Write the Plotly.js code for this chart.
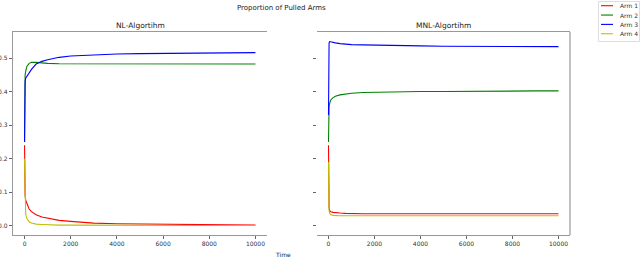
<!DOCTYPE html>
<html><head><meta charset="utf-8">
<script src="https://cdn.plot.ly/plotly-3.0.1.min.js"></script>
<style>html,body{margin:0;padding:0;background:#fff}#chart{width:640px;height:258px}</style>
</head><body><div id="chart"></div>
<script>
const time = [0, 10, 25, 50, 100, 200, 300, 500, 750, 1000, 1500, 2000, 3000, 4000, 5000, 6000, 7000, 8000, 9000, 10000];
const armNames = ["Arm 1", "Arm 2", "Arm 3", "Arm 4"];
const armColors = ["#ff0000", "#008000", "#0000ff", "#bfbf00"];

// NL-Algorithm proportions
const nlArm1 = [0.24, 0.13, 0.09, 0.076, 0.068, 0.050, 0.042, 0.033, 0.026, 0.022, 0.016, 0.013, 0.008, 0.006, 0.005, 0.004, 0.003, 0.003, 0.002, 0.002];
const nlArm2 = [0.25, 0.40, 0.45, 0.46, 0.475, 0.484, 0.487, 0.487, 0.485, 0.484, 0.483, 0.483, 0.483, 0.482, 0.482, 0.482, 0.482, 0.482, 0.482, 0.482];
const nlArm3 = [0.25, 0.40, 0.43, 0.44, 0.446, 0.456, 0.466, 0.482, 0.490, 0.495, 0.502, 0.506, 0.510, 0.512, 0.513, 0.514, 0.514, 0.515, 0.515, 0.516];
const nlArm4 = [0.20, 0.11, 0.06, 0.035, 0.022, 0.012, 0.008, 0.005, 0.004, 0.003, 0.002, 0.002, 0.0015, 0.001, 0.001, 0.001, 0.001, 0.001, 0.001, 0.001];

// MNL-Algorithm proportions
const mnlArm1 = [0.24, 0.09, 0.055, 0.045, 0.042, 0.040, 0.039, 0.038, 0.037, 0.036, 0.036, 0.036, 0.036, 0.036, 0.036, 0.036, 0.036, 0.036, 0.036, 0.036];
const mnlArm2 = [0.25, 0.33, 0.355, 0.365, 0.375, 0.382, 0.386, 0.390, 0.393, 0.395, 0.397, 0.398, 0.399, 0.400, 0.400, 0.401, 0.401, 0.402, 0.402, 0.402];
const mnlArm3 = [0.33, 0.50, 0.545, 0.549, 0.548, 0.546, 0.545, 0.543, 0.541, 0.540, 0.539, 0.538, 0.537, 0.536, 0.535, 0.535, 0.534, 0.534, 0.534, 0.534];
const mnlArm4 = [0.19, 0.07, 0.045, 0.037, 0.033, 0.031, 0.030, 0.030, 0.030, 0.030, 0.030, 0.030, 0.030, 0.030, 0.030, 0.030, 0.030, 0.030, 0.030, 0.030];

const xTicks = [0, 2000, 4000, 6000, 8000, 10000];
const yTicks = [0.0, 0.1, 0.2, 0.3, 0.4, 0.5];
const yTickText = ["0.0", "0.1", "0.2", "0.3", "0.4", "0.5"];

const nl = [nlArm1, nlArm2, nlArm3, nlArm4];
const mnl = [mnlArm1, mnlArm2, mnlArm3, mnlArm4];
const traces = [];
nl.forEach((ys, i) => traces.push({x: time, y: ys, type: 'scatter', mode: 'lines', name: armNames[i],
  line: {color: armColors[i], width: 1.1}, xaxis: 'x', yaxis: 'y', showlegend: false}));
mnl.forEach((ys, i) => traces.push({x: time, y: ys, type: 'scatter', mode: 'lines', name: armNames[i],
  line: {color: armColors[i], width: 1.1}, xaxis: 'x2', yaxis: 'y2', showlegend: false}));

const FAM = 'DejaVu Sans, sans-serif';
const font = {family: FAM, size: 6, color: '#333'};
const xBase = {range: [-500, 10500], tickvals: xTicks, ticktext: xTicks.map(String), showgrid: false, zeroline: false,
  showline: true, mirror: true, linecolor: '#999', linewidth: 1.2, ticks: 'outside', ticklen: 3, tickcolor: '#666',
  tickfont: font};
const yBase = {range: [-0.0275, 0.5775], tickvals: yTicks, showgrid: false, zeroline: false,
  ticks: 'outside', ticklen: 3, tickcolor: '#666', tickfont: font};

const W = 640, H = 258;
const shapes = [{type: 'line', xref: 'x2 domain', yref: 'y2 domain', x0: 1, x1: 1, y0: 0, y1: 1,
  line: {color: '#999', width: 1.2}}];
const annotations = [
  {text: 'Proportion of Pulled Arms', xref: 'paper', yref: 'paper', x: 281/W, y: 1-8/H, showarrow: false,
    xanchor: 'center', yanchor: 'middle', font: {family: FAM, size: 7, color: '#222'}},
  {text: 'NL-Algortihm', xref: 'paper', yref: 'paper', x: 140/W, y: 1-26/H, showarrow: false,
    xanchor: 'center', yanchor: 'middle', font: {family: FAM, size: 7.5, color: '#222'}},
  {text: 'MNL-Algortihm', xref: 'paper', yref: 'paper', x: 443/W, y: 1-26/H, showarrow: false,
    xanchor: 'center', yanchor: 'middle', font: {family: FAM, size: 7.5, color: '#222'}},
  {text: 'Time', xref: 'paper', yref: 'paper', x: 283/W, y: 1-254/H, showarrow: false,
    xanchor: 'center', yanchor: 'middle', font: {family: FAM, size: 6, color: '#222'}}
];
// compact legend (matplotlib-like)
shapes.push({type: 'rect', xref: 'paper', yref: 'paper', x0: 598.5/W, x1: 639.5/W, y0: 1-41.5/H, y1: 1-1.5/H,
  line: {color: '#dddddd', width: 1}, fillcolor: '#ffffff'});
armNames.forEach((nm, i) => {
  const yc = 5.7 + i * 9.35;
  shapes.push({type: 'line', xref: 'paper', yref: 'paper', x0: 601/W, x1: 613/W, y0: 1-yc/H, y1: 1-yc/H,
    line: {color: armColors[i], width: 1.1}});
  annotations.push({text: nm, xref: 'paper', yref: 'paper', x: 618/W, y: 1-yc/H, showarrow: false,
    xanchor: 'left', yanchor: 'middle', font: {family: FAM, size: 6, color: '#333'}});
});

const layout = {
  width: W, height: H, margin: {l: 0, r: 0, t: 0, b: 0}, showlegend: false,
  paper_bgcolor: '#fff', plot_bgcolor: '#fff', font: font,
  xaxis: Object.assign({}, xBase, {domain: [13/W, 267/W], anchor: 'y'}),
  yaxis: Object.assign({}, yBase, {domain: [1-235/H, 1-32/H], anchor: 'x', ticktext: yTickText,
    showline: true, linecolor: '#999', linewidth: 1.2}),
  xaxis2: Object.assign({}, xBase, {domain: [317/W, 570/W], anchor: 'y2'}),
  yaxis2: Object.assign({}, yBase, {domain: [1-235/H, 1-32/H], anchor: 'x2', ticktext: yTicks.map(() => ''),
    showline: false}),
  shapes: shapes,
  annotations: annotations
};
Plotly.newPlot('chart', traces, layout, {staticPlot: true});
</script></body></html>
